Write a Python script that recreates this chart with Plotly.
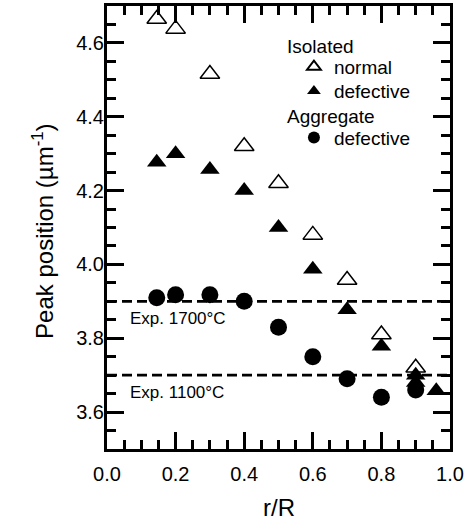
import plotly.graph_objects as go

# Data
iso_normal_x = [0.145, 0.2, 0.3, 0.4, 0.5, 0.6, 0.7, 0.8, 0.9]
iso_normal_y = [4.665, 4.638, 4.516, 4.32, 4.22, 4.08, 3.958, 3.81, 3.72]

iso_def_x = [0.145, 0.2, 0.3, 0.4, 0.5, 0.6, 0.7, 0.8, 0.9, 0.9, 0.96]
iso_def_y = [4.277, 4.30, 4.257, 4.20, 4.10, 3.987, 3.877, 3.778, 3.70, 3.68, 3.658]

agg_def_x = [0.145, 0.2, 0.3, 0.4, 0.5, 0.6, 0.7, 0.8, 0.9]
agg_def_y = [3.91, 3.918, 3.918, 3.90, 3.83, 3.75, 3.69, 3.64, 3.66]

exp_levels = [3.9, 3.7]
exp_labels = ["Exp. 1700°C", "Exp. 1100°C"]

group_titles = ["Isolated", "Aggregate"]

x_ticks = [0.0, 0.2, 0.4, 0.6, 0.8, 1.0]
y_ticks = [3.6, 3.8, 4.0, 4.2, 4.4, 4.6]

FONT = "Liberation Sans, Arial, Helvetica, sans-serif"

fig = go.Figure()
fig.add_trace(go.Scatter(
    x=iso_normal_x, y=iso_normal_y, mode="markers", name="normal", legend="legend",
    marker=dict(symbol="triangle-up-open", size=17, color="black", line=dict(width=1.5, color="black")),
))
fig.add_trace(go.Scatter(
    x=iso_def_x, y=iso_def_y, mode="markers", name="defective", legend="legend2",
    marker=dict(symbol="triangle-up", size=17, color="black"),
))
fig.add_trace(go.Scatter(
    x=agg_def_x, y=agg_def_y, mode="markers", name="defective", legend="legend3",
    marker=dict(symbol="circle", size=17, color="black"),
))

for lvl, lab in zip(exp_levels, exp_labels):
    fig.add_shape(type="line", xref="x domain", yref="y", x0=0, x1=1, y0=lvl, y1=lvl,
                  line=dict(color="black", width=2.8, dash="10px,5px"))
    fig.add_annotation(x=0.06, y=lvl, xref="x", yref="y", text=lab, showarrow=False,
                       xanchor="left", yanchor="middle", yshift=-17,
                       font=dict(size=17, color="black", family=FONT))

# legend group titles
for title, py in zip(group_titles, [0.909, 0.751]):
    fig.add_annotation(x=0.52, y=py, xref="paper", yref="paper", text=title, showarrow=False,
                       xanchor="left", yanchor="middle",
                       font=dict(size=19, color="black", family=FONT))

# axis titles
fig.add_annotation(x=-0.187, y=0.492, xref="paper", yref="paper",
                   text="Peak position (µm<sup>-1</sup>)", showarrow=False, textangle=-90,
                   xanchor="center", yanchor="middle",
                   font=dict(size=24, color="black", family=FONT))
fig.add_annotation(x=0.5, y=-0.133, xref="paper", yref="paper",
                   text="r/R", showarrow=False,
                   xanchor="center", yanchor="middle",
                   font=dict(size=24, color="black", family=FONT))

axis_common = dict(
    showline=True, linewidth=3, linecolor="black", mirror="ticks",
    ticks="inside", ticklen=17, tickwidth=2.5, tickcolor="black",
    showgrid=False, zeroline=False, automargin=False,
    tickfont=dict(size=20, color="black", family=FONT),
)

fig.update_xaxes(
    range=[0, 1], tickmode="array", tickvals=x_ticks, ticktext=[f"{v:.1f}" for v in x_ticks],
    minor=dict(ticks="inside", ticklen=9, tickwidth=2.5, dtick=0.05, tickcolor="black", showgrid=False),
    ticklabelstandoff=5,
    **axis_common,
)
fig.update_yaxes(
    range=[3.5, 4.7], tickmode="array", tickvals=y_ticks, ticktext=[f"{v:.1f}" for v in y_ticks],
    minor=dict(ticks="inside", ticklen=9, tickwidth=2.5, dtick=0.05, tickcolor="black", showgrid=False),
    ticklabelstandoff=-4,
    **axis_common,
)

leg_common = dict(
    xanchor="left", yanchor="middle", bgcolor="rgba(0,0,0,0)", borderwidth=0,
    font=dict(size=19, color="black", family=FONT), itemsizing="constant",
)
fig.update_layout(
    width=469, height=522,
    margin=dict(l=107, r=19, t=6, b=73, autoexpand=False),
    paper_bgcolor="white", plot_bgcolor="white",
    font=dict(family=FONT, color="black"),
    showlegend=True,
    legend=dict(x=0.545, y=0.8625, **leg_common),
    legend2=dict(x=0.545, y=0.808, **leg_common),
    legend3=dict(x=0.545, y=0.703, **leg_common),
)

fig.write_html("out.html", config={"displayModeBar": False},
               post_script="document.body.style.margin='0';")
